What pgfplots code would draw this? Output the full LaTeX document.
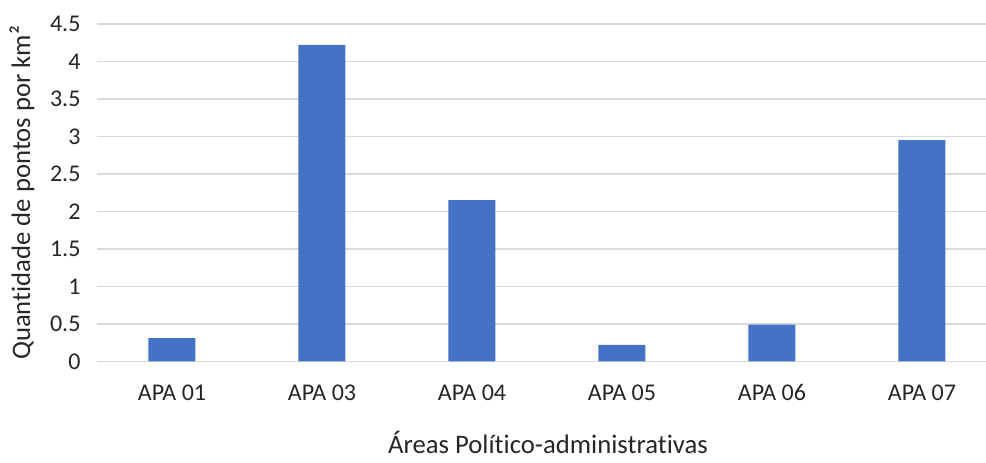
\documentclass[border=0pt]{standalone}
\usepackage{fontspec}
\setmainfont{Carlito}[Ligatures={NoCommon}]
\usepackage{pgfplots}
\pgfplotsset{compat=1.18}
\definecolor{barblue}{HTML}{4472C4}
\definecolor{gridgray}{HTML}{D9D9D9}
\definecolor{txt}{HTML}{262626}
\begin{document}
\begin{tikzpicture}
\useasboundingbox (0,0) rectangle (986pt,463pt);
\begin{axis}[
  at={(97pt,101.5pt)}, anchor=south west,
  scale only axis,
  width=889pt, height=337.5pt,
  xmin=-0.5, xmax=5.427,
  ymin=0, ymax=4.5,
  ytick={0,0.5,...,4.5},
  yticklabels={0,0.5,1,1.5,2,2.5,3,3.5,4,4.5},
  xtick={0,1,2,3,4,5},
  xticklabels={APA 01,APA 03,APA 04,APA 05,APA 06,APA 07},
  major tick length=0pt,
  axis line style={draw=none},
  ymajorgrids,
  grid style={gridgray, line width=1.3pt},
  ticklabel style={font=\fontsize{24}{28}\selectfont, text=txt},
  /pgf/number format/assume math mode=true,
  yticklabel style={xshift=-13pt},
  xticklabel style={anchor=base, yshift=-39.2pt},
  ylabel={Quantidade de pontos por km²},
  ylabel style={font=\fontsize{26.7}{31}\selectfont, text=txt, at={(axis description cs:0,0.5)}, anchor=center, yshift=75pt},
  xlabel={Áreas Político-administrativas},
  xlabel style={font=\fontsize{26.7}{31}\selectfont, text=txt, inner sep=0pt, at={(axis description cs:0.5,0)}, anchor=base, yshift=-91.8pt, xshift=6.5pt},
  clip=false,
]
\addplot[ybar, bar width=47pt, fill=barblue, draw=none] coordinates {
  (0,0.31) (1,4.22) (2,2.15) (3,0.22) (4,0.49) (5,2.95)
};
\end{axis}
\end{tikzpicture}
\end{document}
